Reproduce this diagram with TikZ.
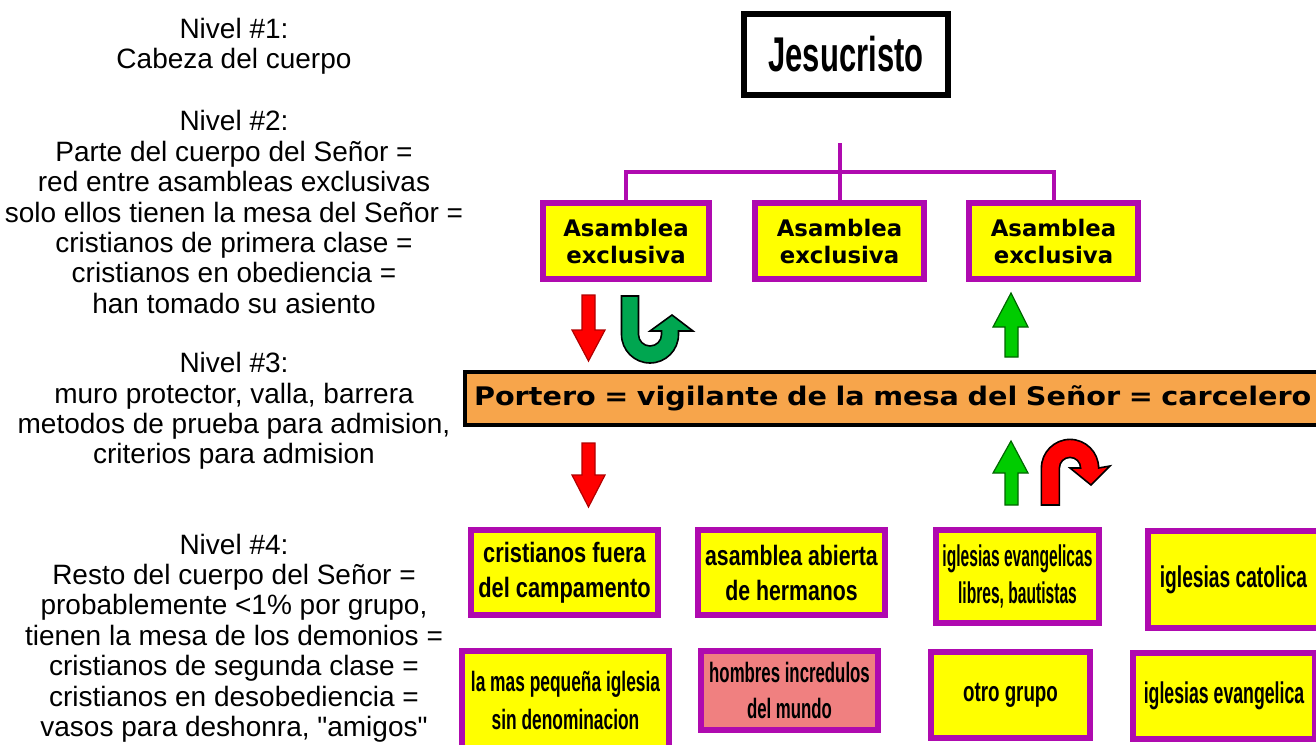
\documentclass[tikz,border=0pt]{standalone}
\usepackage{fontspec}
\setmainfont{Liberation Sans}[Ligatures=TeXOff]
\newfontfamily\condfont{Liberation Sans}
\newfontfamily\squarefont{DejaVu Sans}

\definecolor{lila}{RGB}{175,10,175}
\definecolor{amarillo}{RGB}{255,255,0}
\definecolor{naranja}{RGB}{247,165,75}
\definecolor{rosa}{RGB}{240,128,128}
\definecolor{rojo}{RGB}{255,0,0}
\definecolor{verde}{RGB}{0,204,0}
\definecolor{verdeU}{RGB}{0,166,80}

% condensed bold: size, baselineskip, stretch
\newcommand\cnd[3]{\condfont\bfseries\fontsize{#1}{#2}\selectfont\addfontfeatures{FakeStretch=#3}}

\tikzset{
  nivel/.style={align=center, inner sep=0pt, font=\fontsize{14}{15.2}\selectfont},
  asambox/.style={draw=lila, line width=3pt, fill=amarillo, align=center, inner sep=0pt,
    minimum width=84.5pt, minimum height=38pt,
    font=\squarefont\bfseries\fontsize{11.4}{13.5}\selectfont},
  grupo/.style={draw=lila, line width=3pt, fill=amarillo, align=center, inner sep=0pt},
  conn/.style={draw=lila, line width=2pt},
  flechaR/.style={fill=rojo, draw=rojo!70!black, line width=0.6pt},
  flechaV/.style={fill=verde, draw=verde!50!black, line width=0.6pt},
}

\begin{document}
\begin{tikzpicture}[x=0.5pt, y=-0.5pt]
    \useasboundingbox (0,0) rectangle (1316,744);
    \clip (0,0) rectangle (1316,744);
    \fill[white] (0,0) rectangle (1316,744);

    %%%%% THE LEVELS (left column)
    \node[nivel] (niv1) at (234,46) {Nivel \#1:\\Cabeza del cuerpo};
    \node[nivel] (niv2) at (234,212) {Nivel \#2:\\Parte del cuerpo del Señor =\\red entre asambleas exclusivas\\solo ellos tienen la mesa del Señor =\\cristianos de primera clase =\\cristianos en obediencia =\\han tomado su asiento};
    \node[nivel] (niv3) at (234,411) {Nivel \#3:\\muro protector, valla, barrera\\metodos de prueba para admision,\\criterios para admision};
    \node[nivel] (niv4) at (234,638) {Nivel \#4:\\Resto del cuerpo del Señor =\\probablemente <1\% por grupo,\\tienen la mesa de los demonios =\\cristianos de segunda clase =\\cristianos en desobediencia =\\vasos para deshonra, "amigos"};

    %%%%% THE HEAD AND THE EXCLUSIVE ASSEMBLIES
    \node[draw=black, line width=3pt, fill=white, minimum width=102pt, minimum height=40.5pt,
      inner sep=0pt, font=\cnd{24.4}{26}{0.635}] (jesus) at (846,54.5) {Jesucristo};
    \node[asambox, minimum width=83pt] (asm1) at (626,241) {Asamblea\\exclusiva};
    \node[asambox] (asm2) at (839.5,241) {Asamblea\\exclusiva};
    \node[asambox] (asm3) at (1053.5,241) {Asamblea\\exclusiva};
    \coordinate (top) at (839.5,143);
    \coordinate (hub) at (839.5,172);
    \draw[conn] (top) -- (asm2.north);
    \draw[conn] (asm1.north) |- (hub) -| (asm3.north);

    %%%%% THE DOORKEEPER
    \node[draw=black, line width=2pt, fill=naranja, anchor=west, minimum height=26.5pt,
      inner xsep=4.5pt, inner ysep=0pt, text width=460pt, align=left,
      font=\squarefont\bfseries\fontsize{12.8}{14}\selectfont\addfontfeatures{FakeStretch=1.12}]
      (portero) at (463,398.5) {Portero = vigilante de la mesa del Señor = carcelero};

    %%%%% THE OTHER GROUPS
    \node[grupo, minimum width=93.5pt, minimum height=42.5pt, font=\cnd{14}{17.5}{0.78}]
      (fuera) at (564.5,572.5) {cristianos fuera\\del campamento};
    \node[grupo, minimum width=93.5pt, minimum height=42.5pt, font=\cnd{14}{17.5}{0.76}]
      (abierta) at (791.5,572.5) {asamblea abierta\\de hermanos};
    \node[grupo, minimum width=81.5pt, minimum height=46.5pt, font=\cnd{15}{18.5}{0.52}]
      (libres) at (1017.5,576.5) {iglesias evangelicas\\libres, bautistas};
    \node[grupo, minimum width=85.5pt, minimum height=48.5pt, font=\cnd{15}{18}{0.64}]
      (catolica) at (1233.5,579.5) {iglesias catolica};
    \node[grupo, minimum width=103.5pt, minimum height=49pt, font=\cnd{14}{19}{0.62}]
      (pequena) at (565.5,700) {la mas pequeña iglesia\\sin denominacion};
    \node[grupo, fill=rosa, minimum width=88.5pt, minimum height=39.5pt, font=\cnd{14}{18}{0.60}]
      (mundo) at (789.5,690.5) {hombres incredulos\\del mundo};
    \node[grupo, minimum width=79.5pt, minimum height=43pt, font=\cnd{14}{17}{0.67}]
      (otro) at (1010.5,695) {otro grupo};
    \node[grupo, minimum width=91pt, minimum height=43pt, font=\cnd{15}{18}{0.59}]
      (evang) at (1224,696) {iglesias evangelica};

    %%%%% ARROWS above the doorkeeper
    \filldraw[flechaR] (582,295) -- (595,295) -- (595,330) -- (605,330) -- (588.5,361) -- (572,330) -- (582,330) -- cycle;
    \filldraw[fill=verdeU, draw=black, line width=0.8pt] (621.5,296) -- (621.5,334.5)
      arc[start angle=180, end angle=0, radius=28.5] -- (678.5,331) -- (693,331) -- (672,315)
      -- (650,331) -- (661.5,331) -- (661.5,334.5) arc[start angle=0, end angle=180, radius=11.5]
      -- (638.5,296) -- cycle;
    \filldraw[flechaV] (1005,357) -- (1018,357) -- (1018,327) -- (1028,327) -- (1011,293) -- (993,327) -- (1005,327) -- cycle;
    %%%%% ARROWS below the doorkeeper
    \filldraw[flechaR] (582,443) -- (595,443) -- (595,475) -- (605,475) -- (588.5,507) -- (572,475) -- (582,475) -- cycle;
    \filldraw[flechaV] (1005,505) -- (1018,505) -- (1018,473) -- (1028,473) -- (1011,441) -- (993,473) -- (1005,473) -- cycle;
    \filldraw[fill=rojo, draw=black, line width=0.8pt] (1041.4,505) -- (1041.4,468)
      arc[start angle=180, end angle=360, radius=28.6] -- (1110,466) -- (1091,485) -- (1070,468)
      -- (1080.6,468) arc[start angle=360, end angle=180, radius=10.6] -- (1059.4,505) -- cycle;
\end{tikzpicture}
\end{document}
